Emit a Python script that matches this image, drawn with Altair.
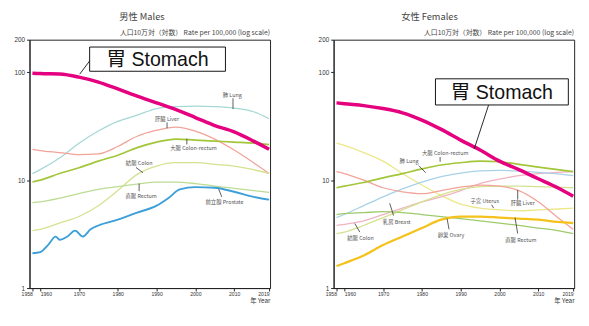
import altair as alt
import pandas as pd

YEARS = [1958, 1960, 1965, 1970, 1975, 1980, 1985, 1990, 1995, 2000, 2005, 2010, 2015, 2019]

# Males
M_STOMACH = [98, 97, 96, 90, 81, 70, 60, 52, 45, 38, 32, 28, 23, 19.3]
M_LUNG = [11.5, 12.5, 16, 22, 28.5, 35, 40, 46, 48, 48.5, 48, 46.5, 43, 37]
M_LIVER = [19.3, 18.8, 18, 17.2, 17.5, 20.5, 25.5, 29, 31, 28.5, 24, 19, 14.5, 11.5]
M_COLORECTUM = [9.6, 10, 11.5, 13, 15, 17, 20, 22.5, 24, 23.5, 23, 22.5, 22, 21.3]
M_COLON = [3.4, 3.5, 4.0, 4.6, 5.8, 8.0, 11.3, 13.5, 14.5, 14.5, 14, 13.5, 12.5, 11.5]
M_RECTUM = [6.2, 6.3, 6.8, 7.5, 8.2, 8.7, 9.2, 9.6, 9.6, 9.3, 8.8, 8.4, 8.0, 7.7]
PROSTATE_YEARS = [1958, 1960, 1962, 1964, 1965, 1967, 1969, 1971, 1973, 1975, 1980, 1985,
                  1990, 1993, 1996, 2000, 2005, 2010, 2015, 2019]
M_PROSTATE = [2.1, 2.15, 2.5, 3.0, 2.8, 3.0, 3.4, 3.0, 3.5, 3.8, 4.3, 5.0,
              5.8, 6.8, 8.2, 8.6, 8.5, 7.8, 7.0, 6.6]

# Females
F_STOMACH = [52, 51, 49, 46, 42, 36, 29.5, 23.5, 19, 15, 12.5, 10.3, 8.5, 7.1]
F_LUNG = [4.5, 4.8, 5.8, 7.0, 8.3, 9.6, 10.8, 11.6, 12.2, 12.3, 12.1, 11.8, 11.4, 11.0]
F_LIVER = [12, 11.5, 10, 8.5, 7.8, 7.5, 8.0, 8.6, 9.0, 8.8, 8.0, 6.3, 4.5, 3.5]
F_COLORECTUM = [8.5, 8.8, 9.5, 10.5, 11.5, 12.7, 13.8, 14.5, 15, 14.8, 14, 13.2, 12.5, 12]
F_COLON = [3.2, 3.3, 3.8, 4.5, 5.3, 6.3, 7.3, 8.2, 8.7, 8.8, 8.8, 8.7, 8.6, 8.5]
F_RECTUM = [4.8, 4.9, 5.0, 5.1, 5.0, 4.8, 4.6, 4.4, 4.2, 4.0, 3.8, 3.6, 3.4, 3.2]
F_UTERUS = [22, 21, 18, 15, 11.5, 9, 7.2, 6.0, 5.5, 5.3, 5.2, 5.3, 5.4, 5.5]
F_BREAST = [3.8, 3.9, 4.2, 4.8, 5.5, 6.3, 7.0, 8.0, 9.3, 10.2, 11.0, 11.5, 11.8, 12.0]
F_OVARY = [1.6, 1.7, 2.0, 2.5, 3.0, 3.6, 4.3, 4.6, 4.6, 4.5, 4.4, 4.3, 4.1, 4.0]

X_TICKS = [1958, 1960, 1970, 1980, 1990, 2000, 2010, 2019]
Y_TICKS = [1, 10, 100, 200]

MALE_SERIES = [
    ("lung_m", YEARS, M_LUNG),
    ("liver", YEARS, M_LIVER),
    ("colon", YEARS, M_COLON),
    ("rectum_m", YEARS, M_RECTUM),
    ("colorectum", YEARS, M_COLORECTUM),
    ("prostate", PROSTATE_YEARS, M_PROSTATE),
]
FEMALE_SERIES = [
    ("uterus", YEARS, F_UTERUS),
    ("breast", YEARS, F_BREAST),
    ("lung_f", YEARS, F_LUNG),
    ("colon", YEARS, F_COLON),
    ("rectum_f", YEARS, F_RECTUM),
    ("liver", YEARS, F_LIVER),
    ("colorectum", YEARS, F_COLORECTUM),
    ("ovary", YEARS, F_OVARY),
]

MALE_LABELS = [
    ("肺 Lung", 2009.5, 61),
    ("肝臓 Liver", 1992.7, 36.6),
    ("大腸 Colon-rectum", 1999.5, 19.7),
    ("結腸 Colon", 1985.5, 14.5),
    ("直腸 Rectum", 1986, 7.06),
    ("前立腺 Prostate", 2007.5, 6.23),
]
MALE_LEADERS = [
    (2009.7, 57.4, 2009.7, 45.5),
    (1992.7, 34.3, 1992.7, 30.3),
    (1997.8, 21.4, 1997.8, 24.2),
    (1984.7, 13.1, 1986.5, 11.7),
    (1985.5, 7.9, 1985.5, 9.3),
    (2006.0, 8.3, 2006.8, 7.0),
]
FEMALE_LABELS = [
    ("大腸 Colon-rectum", 1986, 17.8),
    ("肺 Lung", 1976.7, 15.1),
    ("子宮 Uterus", 1996.2, 6.36),
    ("肝臓 Liver", 2006, 6.1),
    ("乳房 Breast", 1973.5, 4.05),
    ("結腸 Colon", 1964.2, 2.91),
    ("卵巣 Ovary", 1987.5, 3.1),
    ("直腸 Rectum", 2005.5, 2.8),
]
FEMALE_LEADERS = [
    (1984.7, 16.4, 1984.7, 14.8),
    (1979.2, 13.6, 1981.0, 11.7),
    (1998.0, 5.9, 1998.5, 5.5),
    (2004.7, 8.1, 2004.7, 6.6),
    (1971.7, 6.1, 1972.7, 4.7),
    (1962.7, 3.97, 1964.0, 3.3),
    (1986.5, 4.4, 1987.0, 3.5),
    (2004.0, 4.5, 2004.7, 3.2),
]

STYLE = {  # site -> (color, width)
    "lung_m": ("#a6d8d4", 1.3),
    "lung_f": ("#a9d2e6", 1.3),
    "liver": ("#f2a39a", 1.3),
    "colorectum": ("#a3c63a", 1.7),
    "colon": ("#d4e290", 1.3),
    "rectum_m": ("#bcdc94", 1.3),
    "rectum_f": ("#9dcb6c", 1.3),
    "prostate": ("#3c9fd8", 1.9),
    "uterus": ("#ece88a", 1.3),
    "breast": ("#f1b3c2", 1.3),
    "ovary": ("#f5c21c", 2.3),
    "stomach": ("#e4007f", 3.6),
}

XDOM = [1957.25, 2019.25]
W, H = 246, 254

X_LABEL_ALIGN = {
    "condition": [
        {"test": "datum.value == 1958", "value": "right"},
        {"test": "datum.value == 1960", "value": "left"},
        {"test": "datum.value == 2019", "value": "right"},
    ],
    "value": "center",
}

X_AXIS = alt.Axis(values=X_TICKS, format="d", title="年 Year", titleAnchor="end",
                  titleAlign="right", titleFontSize=6.5, titleFontWeight="normal",
                  titlePadding=1, labelFontSize=5.2, labelOverlap=False, labelFlush=False,
                  labelPadding=1, tickSize=3, grid=False, labelAlign=X_LABEL_ALIGN)
Y_AXIS = alt.Axis(values=Y_TICKS, format="~g", title=None, labelFontSize=6.5,
                  tickSize=3, labelPadding=2, grid=False, minExtent=19, maxExtent=19)


def series_df(series):
    rows = []
    for site, yrs, vals in series:
        c, w = STYLE[site]
        for y, v in zip(yrs, vals):
            rows.append({"site": site, "year": y, "value": v, "c": c, "w": w})
    return pd.DataFrame(rows)


def xenc(field="year"):
    return alt.X(f"{field}:Q", scale=alt.Scale(domain=XDOM, nice=False, zero=False), axis=X_AXIS)


def yenc(field="value"):
    return alt.Y(f"{field}:Q", scale=alt.Scale(type="log", domain=[1, 200], nice=False), axis=Y_AXIS)


def panel(series, stomach, labels, leaders, box, box_leader, title, title_x):
    lines_df = series_df(series)
    st_df = series_df([("stomach", YEARS, stomach)])
    base_lines = alt.Chart(lines_df).mark_line(interpolate="monotone").encode(
        x=xenc(), y=yenc(),
        detail="site:N",
        color=alt.Color("c:N", scale=None),
        strokeWidth=alt.StrokeWidth("w:Q", scale=None),
    )
    st_line = alt.Chart(st_df).mark_line(interpolate="monotone").encode(
        x=xenc(), y=yenc(),
        color=alt.Color("c:N", scale=None),
        strokeWidth=alt.StrokeWidth("w:Q", scale=None),
    )
    lab_df = pd.DataFrame(labels, columns=["t", "year", "value"])
    labs = alt.Chart(lab_df).mark_text(fontSize=5.5, color="#555",
                                       font="Noto Sans CJK JP").encode(
        x=xenc(), y=yenc(), text="t:N")
    ld_df = pd.DataFrame(leaders, columns=["x1", "v1", "x2", "v2"])
    lds = alt.Chart(ld_df).mark_rule(color="#333", strokeWidth=0.8).encode(
        x=xenc("x1"), x2="x2:Q", y=yenc("v1"), y2="v2:Q")
    bx_df = pd.DataFrame([box], columns=["x1", "x2", "v1", "v2"])
    bx_df["xm"] = (bx_df["x1"] + bx_df["x2"]) / 2
    bx_df["vm"] = (bx_df["v1"] * bx_df["v2"]) ** 0.5
    bx_df["t"] = "胃 Stomach"
    rect = alt.Chart(bx_df).mark_rect(fill="white", stroke="#111", strokeWidth=1).encode(
        x=xenc("x1"), x2="x2:Q", y=yenc("v1"), y2="v2:Q")
    btxt = alt.Chart(bx_df).mark_text(fontSize=20, color="#111",
                                      font="Liberation Sans, Noto Sans CJK JP", dy=1).encode(
        x=xenc("xm"), y=yenc("vm"), text="t:N")
    bl_df = pd.DataFrame([box_leader], columns=["x1", "v1", "x2", "v2"])
    bl = alt.Chart(bl_df).mark_rule(color="#111", strokeWidth=0.9).encode(
        x=xenc("x1"), x2="x2:Q", y=yenc("v1"), y2="v2:Q")
    t_df = pd.DataFrame({"t": [title]})
    ttl = alt.Chart(t_df).mark_text(fontSize=9.5, color="#444", font="Noto Sans CJK JP",
                                    baseline="middle").encode(
        text="t:N", x=alt.value(title_x), y=alt.value(-23))
    s_df = pd.DataFrame({"t": ["人口10万対（対数） Rate per 100,000 (log scale)"]})
    sub = alt.Chart(s_df).mark_text(fontSize=7, color="#444", font="Noto Sans CJK JP",
                                    align="right", baseline="middle").encode(
        text="t:N", x=alt.value(W), y=alt.value(-7))
    return alt.layer(base_lines, st_line, lds, labs, bl, rect, btxt, ttl, sub).properties(
        width=W, height=H)


left = panel(MALE_SERIES, M_STOMACH, MALE_LABELS, MALE_LEADERS,
             (1972.75, 2007.75, 102, 171), (1973.3, 135, 1970.2, 96),
             "男性 Males", 115)
right = panel(FEMALE_SERIES, F_STOMACH, FEMALE_LABELS, FEMALE_LEADERS,
              (1983.5, 2017.75, 49.7, 86.8), (1997.2, 49.7, 1993.5, 19.5),
              "女性 Females", 98)

chart = alt.hconcat(left, right, spacing=38).properties(
    padding={"left": 2, "top": 0, "right": 0, "bottom": 0}
).configure_view(stroke="#222", strokeWidth=1).configure_axis(
    domainColor="#222", tickColor="#222", labelColor="#333", titleColor="#333",
    labelFont="Liberation Sans", titleFont="Noto Sans CJK JP")

chart.save("out.html", embed_options={"renderer": "svg", "actions": False})
